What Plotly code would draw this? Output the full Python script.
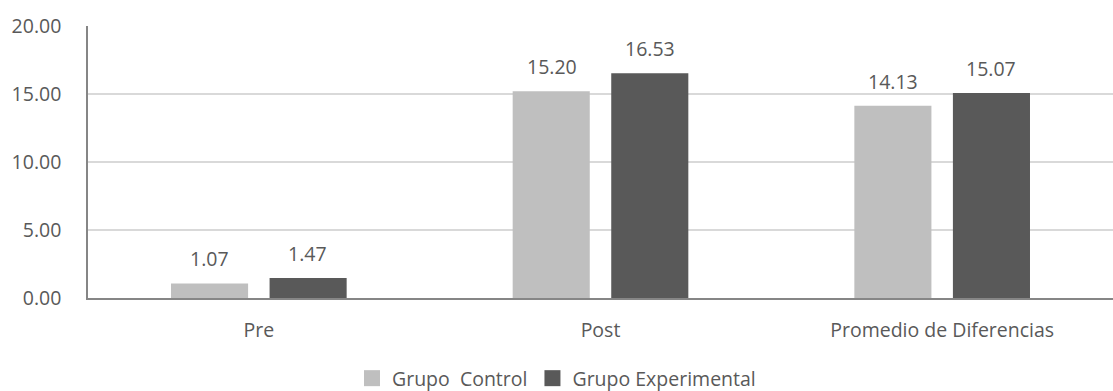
import plotly.graph_objects as go

categories = ["Pre", "Post", "Promedio de Diferencias"]
control_values = [1.07, 15.20, 14.13]
experimental_values = [1.47, 16.53, 15.07]
series_names = ["Grupo  Control", "Grupo Experimental"]
series_colors = ["#BFBFBF", "#595959"]
y_ticks = [0, 5, 10, 15, 20]

FONT = "Open Sans"
TEXT_COLOR = "#595959"
SIZE = 19.5
BAR_OFFSET = 49  # px from category centre to each bar centre

fig = go.Figure()
for name, vals, color, shift in [
    (series_names[0], control_values, series_colors[0], -BAR_OFFSET),
    (series_names[1], experimental_values, series_colors[1], BAR_OFFSET),
]:
    fig.add_trace(go.Bar(
        x=categories,
        y=vals,
        name=name,
        marker=dict(color=color, line=dict(width=0)),
        showlegend=False,
        hovertemplate="%{x}: %{y:.2f}<extra>" + name + "</extra>",
    ))
    # value labels above each bar
    for cat, v in zip(categories, vals):
        fig.add_annotation(
            x=cat, y=v, text=f"{v:.2f}",
            showarrow=False, xshift=shift, yshift=9,
            yanchor="bottom",
            font=dict(family=FONT, size=SIZE, color=TEXT_COLOR),
        )
    # square legend swatch
    fig.add_trace(go.Scatter(
        x=[None], y=[None], mode="markers", name=name,
        marker=dict(symbol="square", size=16, color=color),
        showlegend=True,
    ))

fig.update_layout(
    width=1113,
    height=391,
    margin=dict(l=88, r=0, t=26, b=93),
    paper_bgcolor="white",
    plot_bgcolor="white",
    barmode="group",
    bargap=0.423,
    bargroupgap=0.218,
    font=dict(family=FONT, size=SIZE, color=TEXT_COLOR),
    showlegend=True,
    legend=dict(
        orientation="h",
        x=0.5,
        xref="container",
        xanchor="center",
        y=0.032,
        yref="container",
        yanchor="middle",
        font=dict(family=FONT, size=SIZE, color=TEXT_COLOR),
        itemsizing="trace",
        tracegroupgap=0,
    ),
    xaxis=dict(
        showgrid=False,
        showline=True,
        linecolor="#868686",
        linewidth=1.5,
        ticks="",
        ticklabelstandoff=14,
        tickfont=dict(family=FONT, size=SIZE, color=TEXT_COLOR),
    ),
    yaxis=dict(
        range=[0, 20],
        tickvals=y_ticks,
        tickformat=".2f",
        showgrid=True,
        gridcolor="#D9D9D9",
        gridwidth=1.5,
        showline=True,
        linecolor="#868686",
        linewidth=1.5,
        zeroline=False,
        ticks="",
        ticklabelstandoff=21,
        tickfont=dict(family=FONT, size=SIZE, color=TEXT_COLOR),
    ),
)

fig.write_html("out.html")
